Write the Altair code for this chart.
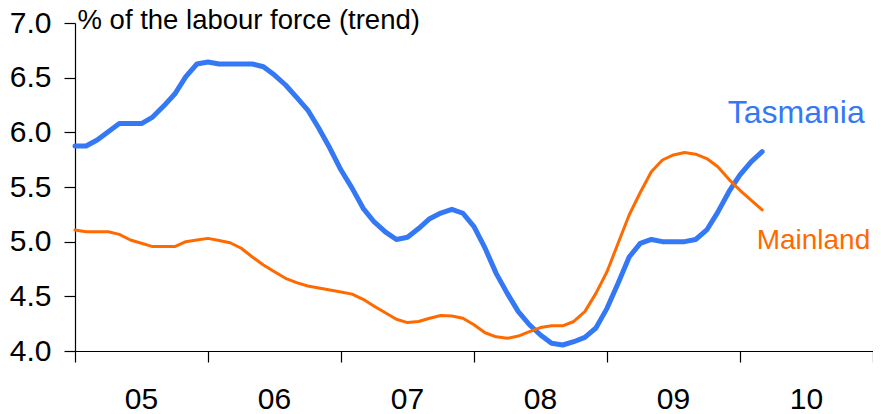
import altair as alt
import pandas as pd

# Month index (0 = Jan 2005), monthly trend data
months = list(range(63))
tasmania = [5.875, 5.875, 5.93, 6.006, 6.08, 6.08, 6.08, 6.14, 6.24, 6.35,
            6.51, 6.625, 6.643, 6.625, 6.625, 6.625, 6.625, 6.60, 6.524, 6.433,
            6.32, 6.204, 6.037, 5.854, 5.655, 5.49, 5.305, 5.18, 5.09, 5.02,
            5.04, 5.12, 5.21, 5.262, 5.296, 5.26, 5.137, 4.94, 4.71, 4.527,
            4.36, 4.24, 4.146, 4.07, 4.055, 4.085, 4.125, 4.21, 4.39, 4.62,
            4.86, 4.985, 5.02, 5.0, 5.0, 5.0, 5.02, 5.107, 5.27, 5.457,
            5.61, 5.73, 5.823]
mainland = [5.107, 5.09, 5.09, 5.09, 5.067, 5.015, 4.985, 4.955, 4.955, 4.955,
            5.0, 5.015, 5.03, 5.01, 4.99, 4.94, 4.86, 4.787, 4.725, 4.665,
            4.625, 4.595, 4.576, 4.558, 4.54, 4.52, 4.473, 4.41, 4.35, 4.29,
            4.26, 4.27, 4.30, 4.325, 4.32, 4.30, 4.24, 4.167, 4.13, 4.116,
            4.137, 4.177, 4.214, 4.23, 4.23, 4.27, 4.36, 4.527, 4.725, 4.985,
            5.244, 5.45, 5.64, 5.747, 5.793, 5.815, 5.80, 5.76, 5.686, 5.57,
            5.47, 5.38, 5.29]

year_labels = ["05", "06", "07", "08", "09", "10"]
year_ticks = [0, 12, 24, 36, 48, 60, 72]
y_ticks = [4.0, 4.5, 5.0, 5.5, 6.0, 6.5, 7.0]

series_names = ["Tasmania", "Mainland"]
series_colors = ["#3478F6", "#FF6A00"]
label_x = [58.9, 61.5]
label_y = [6.085, 4.933]
label_size = [32, 28]

FONT = "Liberation Sans"

df_tas = pd.DataFrame({"m": months, "v": tasmania})
df_main = pd.DataFrame({"m": months, "v": mainland})

label_expr = "[" + ",".join("'%s'" % s for s in year_labels) + "][datum.value / 12] || ''"

x_enc = alt.X(
    "m:Q",
    scale=alt.Scale(domain=[0, 72], nice=False, zero=False),
    axis=alt.Axis(
        values=year_ticks, labelExpr=label_expr, labelOffset=66,
        tickSize=11, labelPadding=22, labelFontSize=30, labelFont=FONT,
        labelFlush=False, labelOverlap=False, grid=False, title=None,
        domainColor="black", tickColor="black", labelColor="black",
        domainWidth=1.2, tickWidth=1.2,
    ),
)
y_enc = alt.Y(
    "v:Q",
    scale=alt.Scale(domain=[4, 7], nice=False, zero=False),
    axis=alt.Axis(
        values=y_ticks, format=".1f", tickSize=11, labelPadding=13,
        labelFontSize=30, labelFont=FONT, labelFlush=False, labelOverlap=False,
        grid=False, domainColor="black", tickColor="black", labelColor="black",
        domainWidth=1.2, tickWidth=1.2,
        title="% of the labour force (trend)", titleAngle=0, titleX=2, titleY=5.2,
        titleAlign="left", titleBaseline="alphabetic", titleFontSize=27.5,
        titleFont=FONT, titleFontWeight="normal", titleColor="black",
    ),
)

tas_line = alt.Chart(df_tas).mark_line(
    color=series_colors[0], strokeWidth=5, strokeCap="round", strokeJoin="round"
).encode(x=x_enc, y=y_enc)

main_line = alt.Chart(df_main).mark_line(
    color=series_colors[1], strokeWidth=3, strokeCap="round", strokeJoin="round"
).encode(x="m:Q", y="v:Q")

labels = []
for i in range(2):
    ldf = pd.DataFrame({"m": [label_x[i]], "v": [label_y[i]], "t": [series_names[i]]})
    labels.append(
        alt.Chart(ldf).mark_text(
            align="left", baseline="alphabetic", font=FONT,
            fontSize=label_size[i], color=series_colors[i]
        ).encode(x="m:Q", y="v:Q", text="t:N")
    )

chart = alt.layer(tas_line, main_line, *labels).properties(
    width=798, height=328,
    autosize=alt.AutoSizeParams(type="none"),
    padding={"left": 67, "top": 15, "right": 0, "bottom": 63},
).configure_view(stroke=None)

chart.save("out.html", embed_options={"renderer": "svg", "actions": False})
